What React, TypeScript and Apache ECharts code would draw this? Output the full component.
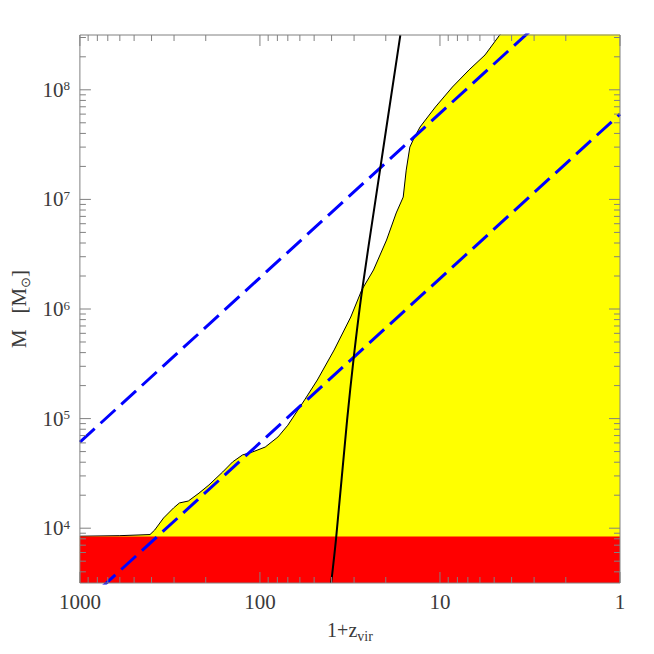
import React, { useEffect, useRef } from 'react';
import * as echarts from 'echarts';

// ---- data ----
const xTickValues = [1, 10, 100, 1000];          // 1+z labels
const yTickExponents = [4, 5, 6, 7, 8];           // 10^n labels

// upper boundary of the yellow region
const boundaryZ = [1000, 600, 408, 384, 343, 302, 280, 250, 218, 192, 161, 142, 125, 110, 93.5, 79.4, 70, 56.5, 48.0, 38.7, 31.3, 27.2, 23.4, 19.8, 17.5, 16.0, 15.4, 14.7, 14.1, 12.9, 10.6, 8.53, 6.89, 5.62, 4.66, 1];
const boundaryM = [8450, 8550, 8750, 9630, 1.24e4, 1.53e4, 1.70e4, 1.77e4, 2.09e4, 2.48e4, 3.26e4, 4.02e4, 4.66e4, 4.96e4, 5.5e4, 6.8e4, 8.7e4, 1.48e5, 2.25e5, 4.23e5, 8.45e5, 1.49e6, 2.27e6, 4.26e6, 7.52e6, 1.05e7, 1.85e7, 3.0e7, 3.48e7, 4.58e7, 6.97e7, 1.06e8, 1.52e8, 2.08e8, 3.16e8, 5e9];

// red band
const redZ = [1000, 1];
const redM = [8400, 8400];

// black solid curve
const collapseZ = [40.2, 37.7, 32.8, 30.1, 27.2, 22.8, 16.6];
const collapseM = [3162, 8300, 9.7e4, 3.65e5, 1.4e6, 9.9e6, 3.16e8];

// blue dashed lines
const dashAZ = [1000, 1];
const dashAM = [6.1e4, 1.93e9];
const dashBZ = [1000, 1];
const dashBM = [1.9e3, 6.0e7];

const X_MIN = 0, X_MAX = 3;     // log10(1+z)
const Y_MIN = 3.5, Y_MAX = 8.5; // log10(M)

const L = Math.log10;
const pairs = (zs: number[], ms: number[]) => zs.map((z, i) => [L(z), L(ms[i])]);

const FONT = 'Liberation Serif';
const TXT = '#3a3a3a';
const TICK = '#808080';

function buildXTicks() {
  const out: number[][] = [];
  for (let d = 0; d < 3; d++) for (let k = 1; k <= 9; k++) out.push([L(k * 10 ** d), k === 1 ? 1 : 0]);
  out.push([3, 1]);
  return out;
}
function buildYTicks() {
  const out: number[][] = [];
  for (let d = 3; d <= 8; d++) for (let k = 1; k <= 9; k++) {
    const v = L(k * 10 ** d);
    if (v >= Y_MIN - 1e-9 && v <= Y_MAX + 1e-9) out.push([3, v, k === 1 ? 1 : 0]);
  }
  return out;
}

export default function App() {
  const ref = useRef<HTMLDivElement>(null);
  useEffect(() => {
    if (!ref.current) return;
    const chart = echarts.init(ref.current, undefined, { renderer: 'svg' });
    const option: any = {
      animation: false,
      backgroundColor: '#fff',
      grid: { left: 72, top: 35, right: 34, bottom: 71, containLabel: false },
      xAxis: {
        type: 'value', min: X_MIN, max: X_MAX, inverse: true,
        axisLine: { show: false }, axisTick: { show: false }, splitLine: { show: false },
        axisLabel: {
          customValues: xTickValues.map(L),
          formatter: (v: number) => String(Math.round(10 ** v)),
          fontFamily: FONT, fontSize: 21, color: TXT, margin: 8,
        },
        name: '{m|1+z}{s|vir}', nameLocation: 'middle', nameGap: 34,
        nameTextStyle: {
          rich: {
            m: { fontFamily: FONT, fontSize: 20, lineHeight: 26, color: TXT },
            s: { fontFamily: FONT, fontSize: 14, lineHeight: 14, verticalAlign: 'bottom', color: TXT },
          },
        },
      },
      yAxis: {
        type: 'value', min: Y_MIN, max: Y_MAX,
        axisLine: { show: false }, axisTick: { show: false }, splitLine: { show: false },
        axisLabel: {
          customValues: yTickExponents,
          formatter: (v: number) => `{b|10}{s|${Math.round(v)}}`,
          margin: 10,
          rich: {
            b: { fontFamily: FONT, fontSize: 21, color: TXT },
            s: { fontFamily: FONT, fontSize: 13, color: TXT, verticalAlign: 'top' },
          },
        },
        name: '{m|M   [M}{s|⊙}{m|]}', nameLocation: 'middle', nameGap: 46,
        nameTextStyle: {
          rich: {
            m: { fontFamily: FONT, fontSize: 21, lineHeight: 26, color: TXT },
            s: { fontFamily: FONT, fontSize: 13, lineHeight: 13, verticalAlign: 'bottom', color: TXT },
          },
        },
      },
      series: [
        {
          type: 'line', z: 2, silent: true, symbol: 'none',
          data: pairs(boundaryZ, boundaryM),
          lineStyle: { color: '#000', width: 1 },
          areaStyle: { color: '#ffff00', opacity: 1, origin: 'start' },
        },
        {
          type: 'line', z: 3, silent: true, symbol: 'none',
          data: pairs(redZ, redM),
          lineStyle: { width: 0, color: '#ff0000' },
          areaStyle: { color: '#ff0000', opacity: 1, origin: 'start' },
        },
        {
          type: 'line', z: 4, silent: true, symbol: 'none',
          data: pairs(dashAZ, dashAM),
          lineStyle: { color: '#0000ff', width: 3, type: [20, 8] },
        },
        {
          type: 'line', z: 4, silent: true, symbol: 'none',
          data: pairs(dashBZ, dashBM),
          lineStyle: { color: '#0000ff', width: 3, type: [20, 8] },
        },
        {
          type: 'line', z: 5, silent: true, symbol: 'none', smooth: 0.3,
          data: pairs(collapseZ, collapseM),
          lineStyle: { color: '#000', width: 2 },
        },
        {
          type: 'custom', z: 6, silent: true,
          data: buildXTicks(),
          encode: { x: 0, y: 1 },
          renderItem: (params: any, api: any) => {
            const v = api.value(0);
            const len = api.value(1) ? 11 : 6;
            const b = api.coord([v, Y_MIN]);
            const t = api.coord([v, Y_MAX]);
            return {
              type: 'group', children: [
                { type: 'line', shape: { x1: b[0], y1: b[1], x2: b[0], y2: b[1] - len }, style: { stroke: TICK, lineWidth: 1 } },
                { type: 'line', shape: { x1: t[0], y1: t[1], x2: t[0], y2: t[1] + len }, style: { stroke: TICK, lineWidth: 1 } },
              ],
            };
          },
        },
        {
          type: 'custom', z: 6, silent: true,
          data: buildYTicks(),
          encode: { x: 0, y: 1 },
          renderItem: (params: any, api: any) => {
            const v = api.value(1);
            const len = api.value(2) ? 11 : 6;
            const l = api.coord([X_MAX, v]);
            const r = api.coord([X_MIN, v]);
            return {
              type: 'group', children: [
                { type: 'line', shape: { x1: l[0], y1: l[1], x2: l[0] + len, y2: l[1] }, style: { stroke: TICK, lineWidth: 1 } },
                { type: 'line', shape: { x1: r[0], y1: r[1], x2: r[0] - len, y2: r[1] }, style: { stroke: TICK, lineWidth: 1 } },
              ],
            };
          },
        },
        {
          type: 'custom', z: 7, silent: true,
          data: [[X_MAX, Y_MAX]],
          encode: { x: 0, y: 1 },
          renderItem: (params: any, api: any) => {
            const a = api.coord([X_MAX, Y_MAX]);
            const b = api.coord([X_MIN, Y_MIN]);
            return {
              type: 'rect',
              shape: { x: a[0], y: a[1], width: b[0] - a[0], height: b[1] - a[1] },
              style: { fill: 'none', stroke: TICK, lineWidth: 1 },
            };
          },
        },
      ],
    };
    chart.setOption(option);
    return () => chart.dispose();
  }, []);
  return <div ref={ref} style={{ position: 'fixed', left: 0, top: 0, width: 654, height: 654 }} />;
}
